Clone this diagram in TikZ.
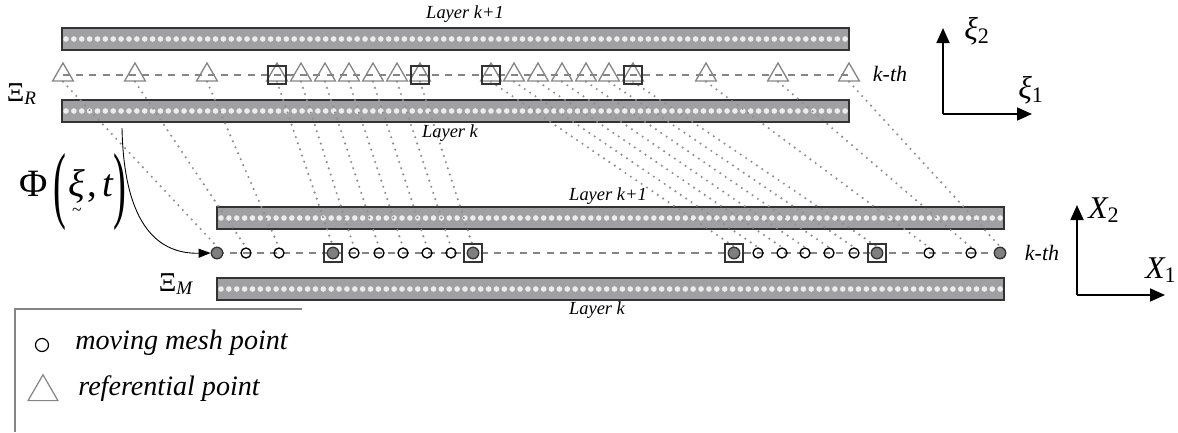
\documentclass[tikz,border=0pt]{standalone}
\usepackage{fontspec}
\setmainfont{Liberation Serif}
\usetikzlibrary{shapes.geometric,arrows.meta}
\definecolor{barfill}{HTML}{A0A0A2}
\definecolor{bardot}{HTML}{ECECEC}
\definecolor{edge}{HTML}{333333}
\definecolor{trigray}{HTML}{858585}
\definecolor{dotgray}{HTML}{8E8E8E}
\definecolor{ptfill}{HTML}{7F7F7F}
\pgfdeclarelayer{background}
\pgfsetlayers{background,main}
\newcommand{\layerbar}[2]{%
  \draw[bar] (#1,#2) rectangle ({#1+787},{#2+22});
  \foreach \d in {0,...,99} \fill[bardot] ({#1+4+\d*7.87},{#2+11}) circle (0.56mm);
}
\begin{document}
\begin{tikzpicture}[x=0.2mm,y=-0.2mm,
  bar/.style={fill=barfill,draw=edge,line width=0.85pt},
  tri/.style={regular polygon,regular polygon sides=3,draw=trigray,line width=0.75pt,minimum size=4.8mm,inner sep=0pt},
  mpt/.style={circle,draw=black,line width=0.75pt,minimum size=2mm,inner sep=0pt},
  fpt/.style={circle,fill=ptfill,draw=edge,line width=0.75pt,minimum size=2.3mm,inner sep=0pt},
  sq/.style={rectangle,draw=edge,line width=0.95pt,minimum size=3.6mm,inner sep=0pt},
  map/.style={dotgray,line width=1.35pt,line cap=round,dash pattern=on 0pt off 3.7pt},
  rowline/.style={trigray,line width=0.65pt,dash pattern=on 4pt off 3.5pt},
  axis/.style={line width=1pt,-{Triangle[length=3mm,width=2.6mm]}},
  lbl/.style={font=\fontsize{10.5}{12}\selectfont\itshape,inner sep=0pt},
  kth/.style={font=\fontsize{12.5}{14}\selectfont\itshape,inner sep=0pt},
  axlbl/.style={font=\fontsize{18}{20}\selectfont\itshape,inner sep=0pt},
  leg/.style={font=\fontsize{16}{18}\selectfont\itshape,inner sep=0pt,anchor=west}]
\useasboundingbox (0,0) rectangle (1178,432);

% referential points (top row)
\foreach \x [count=\i] in {63,135,207,277,301,325,349,373,397,420,491,514,538,562,586,609,633,706,778,849}
  \node[tri] (t\i) at (\x,75) {};
\foreach \i in {4,10,11,17} \node[sq] (ts\i) at (t\i.center) {};

% moving mesh points (bottom row)
\foreach \x/\s [count=\i] in {217/fpt,246/mpt,279/mpt,333/fpt,354/mpt,379/mpt,403/mpt,427/mpt,451/mpt,473/fpt,734/fpt,758/mpt,782/mpt,805/mpt,829/mpt,854/mpt,877/fpt,929/mpt,971/mpt,1000/fpt}
  \node[\s] (c\i) at (\x,253) {};
\foreach \i in {4,10,11,17} \node[sq] (cs\i) at (c\i.center) {};

\begin{pgfonlayer}{background}
  \layerbar{62}{28}
  \layerbar{62}{100}
  \layerbar{217}{207}
  \layerbar{217}{278}
  \foreach \i in {1,...,20} \draw[map] (t\i.south) -- (c\i.north);
  \draw[rowline] (t1.center) -- (t20.center);
  \draw[rowline] (c1.center) -- (c20.center);
\end{pgfonlayer}

% labels
\node[lbl] (l1) at (465,14) {Layer k+1};
\node[lbl] (l2) at (450,133) {Layer k};
\node[lbl] (l3) at (608,196) {Layer k+1};
\node[lbl] (l4) at (597,310) {Layer k};
\node[kth] (k1) at (890,74) {k-th};
\node[kth] (k2) at (1042,253) {k-th};

\node[inner sep=0pt,font=\fontsize{15.5}{17}\selectfont] (xiR) at (22,94) {Ξ\textsubscript{\itshape R}};
\node[inner sep=0pt,font=\fontsize{15.5}{17}\selectfont] (xiM) at (176,284) {Ξ\textsubscript{\itshape M}};

\node[inner sep=0pt,font=\fontsize{22}{24}\selectfont] (phi) at (73,192)
  {Φ\kern0.15em\raisebox{-0.4em}{\scalebox{1}[2.2]{(}}\kern0.05em\vtop{\halign{\hfil#\hfil\cr\itshape ξ\cr\noalign{\kern-0.62em}\fontsize{10}{10}\selectfont\textasciitilde\cr}}\kern0.05em,\kern0.15em{\itshape t}\raisebox{-0.4em}{\scalebox{1}[2.2]{)}}};

\coordinate (phistart) at (122,128);
\draw[line width=0.5pt,-{Triangle[length=2.4mm,width=1.8mm]}] (phistart) .. controls (124,228) and (160,254) .. (c1.west);

% axes
\coordinate (o1) at (943,114);
\coordinate (a1y) at (943,28);
\coordinate (a1x) at (1032,114);
\draw[axis] (o1) -- (a1y);
\draw[axis] (o1) -- (a1x);
\node[axlbl] (xi2) at (977,31) {ξ\textsubscript{\upshape 2}};
\node[axlbl] (xi1) at (1031,90) {ξ\textsubscript{\upshape 1}};

\coordinate (o2) at (1077,295);
\coordinate (a2y) at (1077,205);
\coordinate (a2x) at (1165,295);
\draw[axis] (o2) -- (a2y);
\draw[axis] (o2) -- (a2x);
\node[axlbl] (X2) at (1104,210) {X\textsubscript{\upshape 2}};
\node[axlbl] (X1) at (1161,270) {X\textsubscript{\upshape 1}};

% legend
\coordinate (lgtop) at (15,309);
\coordinate (lgright) at (302,309);
\coordinate (lgbot) at (15,432);
\draw[trigray,line width=0.8pt] (lgbot) -- (lgtop) -- (lgright);
\node[circle,draw=black,line width=0.7pt,minimum size=2.6mm,inner sep=0pt] (lgc) at (42,345) {};
\node[leg] (lgct) at (75,343) {moving mesh point};
\node[regular polygon,regular polygon sides=3,draw=trigray,line width=0.7pt,minimum size=6.9mm,inner sep=0pt] (lgt) at (43,392) {};
\node[leg] (lgtt) at (78,389) {referential point};
\end{tikzpicture}
\end{document}
